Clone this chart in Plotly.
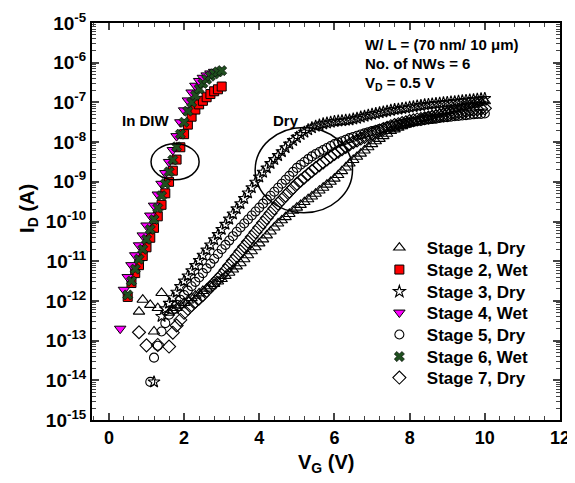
import plotly.graph_objects as go

# ---------------- data (log10 of I_D in A) ----------------
# Dry curves: shared gate-voltage grid for the main sweep
VG_DRY = [1.6, 1.7, 1.8, 1.9, 2.0, 2.1, 2.2, 2.3, 2.4, 2.5,
          2.6, 2.7, 2.8, 2.9, 3.0, 3.1, 3.2, 3.3, 3.4, 3.5,
          3.6, 3.7, 3.8, 3.9, 4.0, 4.1, 4.2, 4.3, 4.4, 4.5,
          4.6, 4.7, 4.8, 4.9, 5.0, 5.1, 5.2, 5.3, 5.4, 5.5,
          5.6, 5.7, 5.8, 5.9, 6.0, 6.1, 6.2, 6.3, 6.4, 6.5,
          6.6, 6.7, 6.8, 6.9, 7.0, 7.1, 7.2, 7.3, 7.4, 7.5,
          7.6, 7.7, 7.8, 7.9, 8.0, 8.1, 8.2, 8.3, 8.4, 8.5,
          8.6, 8.7, 8.8, 8.9, 9.0, 9.1, 9.2, 9.3, 9.4, 9.5,
          9.6, 9.7, 9.8, 9.9, 10.0]

# Stage 1 (dry, triangles)
S1_VG_START = [0.8, 0.9, 1.1, 1.2, 1.3, 1.4]
S1_LOG_START = [-12.27, -11.97, -12.10, -12.77, -12.18, -11.80]
S1_LOG = [-12.30, -12.24, -12.18, -12.11, -12.05, -11.99, -11.93, -11.87, -11.81, -11.75,
          -11.69, -11.63, -11.57, -11.51, -11.45, -11.37, -11.29, -11.21, -11.13, -11.05,
          -10.95, -10.85, -10.75, -10.65, -10.55, -10.45, -10.35, -10.25, -10.15, -10.05,
          -9.97, -9.89, -9.81, -9.73, -9.65, -9.58, -9.51, -9.44, -9.37, -9.30,
          -9.22, -9.15, -9.07, -9.00, -8.92, -8.83, -8.73, -8.64, -8.54, -8.45,
          -8.37, -8.29, -8.21, -8.13, -8.05, -7.98, -7.92, -7.85, -7.79, -7.72,
          -7.68, -7.64, -7.60, -7.56, -7.52, -7.49, -7.46, -7.42, -7.39, -7.36,
          -7.33, -7.30, -7.28, -7.25, -7.22, -7.20, -7.17, -7.15, -7.12, -7.10,
          -7.07, -7.05, -7.02, -7.00, -6.97]

# Stage 3 (dry, stars)
S3_VG_START = [1.2, 1.4, 1.5]
S3_LOG_START = [-14.04, -12.39, -12.20]
S3_LOG = [-12.06, -11.92, -11.78, -11.64, -11.50, -11.37, -11.24, -11.11, -10.98, -10.85,
          -10.72, -10.59, -10.46, -10.33, -10.20, -10.07, -9.94, -9.81, -9.68, -9.55,
          -9.42, -9.28, -9.15, -9.01, -8.88, -8.76, -8.65, -8.54, -8.44, -8.34,
          -8.24, -8.14, -8.05, -7.96, -7.88, -7.81, -7.75, -7.69, -7.64, -7.60,
          -7.57, -7.54, -7.52, -7.50, -7.48, -7.47, -7.46, -7.45, -7.44, -7.42,
          -7.40, -7.37, -7.35, -7.32, -7.30, -7.28, -7.26, -7.24, -7.22, -7.20,
          -7.18, -7.17, -7.15, -7.14, -7.12, -7.11, -7.09, -7.08, -7.06, -7.05,
          -7.04, -7.03, -7.02, -7.01, -7.00, -6.99, -6.98, -6.97, -6.96, -6.95,
          -6.94, -6.93, -6.92, -6.91, -6.90]

# Stage 5 (dry, circles)
S5_VG_START = [1.1, 1.2, 1.3, 1.4, 1.5]
S5_LOG_START = [-14.04, -13.43, -13.13, -12.77, -12.56]
S5_LOG = [-12.35, -12.22, -12.10, -11.97, -11.85, -11.74, -11.63, -11.52, -11.41, -11.30,
          -11.18, -11.06, -10.94, -10.82, -10.70, -10.59, -10.48, -10.37, -10.26, -10.15,
          -10.05, -9.95, -9.85, -9.75, -9.65, -9.55, -9.45, -9.35, -9.25, -9.15,
          -9.05, -8.95, -8.85, -8.75, -8.65, -8.57, -8.50, -8.43, -8.36, -8.30,
          -8.25, -8.20, -8.15, -8.10, -8.05, -8.01, -7.98, -7.94, -7.90, -7.87,
          -7.84, -7.81, -7.78, -7.75, -7.72, -7.70, -7.67, -7.65, -7.62, -7.60,
          -7.58, -7.56, -7.54, -7.52, -7.50, -7.49, -7.47, -7.46, -7.44, -7.43,
          -7.42, -7.41, -7.39, -7.38, -7.37, -7.36, -7.35, -7.34, -7.33, -7.32,
          -7.31, -7.30, -7.29, -7.29, -7.28]

# Stage 7 (dry, diamonds)
S7_VG_START = [0.8, 1.0, 1.3]
S7_LOG_START = [-12.79, -13.12, -13.11]
S7_LOG = [-13.15, -12.80, -12.62, -12.48, -12.30, -12.20, -12.11, -12.02, -11.94, -11.85,
          -11.75, -11.65, -11.55, -11.45, -11.35, -11.23, -11.11, -10.99, -10.87, -10.75,
          -10.63, -10.51, -10.39, -10.27, -10.15, -10.03, -9.91, -9.79, -9.67, -9.55,
          -9.45, -9.35, -9.25, -9.15, -9.05, -8.97, -8.89, -8.81, -8.73, -8.65,
          -8.58, -8.51, -8.44, -8.37, -8.30, -8.24, -8.18, -8.12, -8.06, -8.00,
          -7.96, -7.91, -7.87, -7.82, -7.78, -7.74, -7.71, -7.67, -7.64, -7.60,
          -7.57, -7.55, -7.52, -7.50, -7.47, -7.45, -7.43, -7.42, -7.40, -7.38,
          -7.36, -7.35, -7.33, -7.32, -7.30, -7.28, -7.27, -7.25, -7.24, -7.22,
          -7.20, -7.19, -7.18, -7.16, -7.15]

# Wet curves (in DIW)
S2_VG = [0.5, 0.6, 0.7, 0.8, 0.9, 1.0, 1.1, 1.2, 1.3, 1.4, 1.5, 1.6, 1.7,
         1.8, 1.9, 2.0, 2.1, 2.2, 2.3, 2.4, 2.5, 2.6, 2.7, 2.8, 2.9, 3.0]
S2_LOG = [-11.90, -11.55, -11.30, -11.10, -10.87, -10.65, -10.41, -10.16, -9.87, -9.58,
          -9.29, -9.00, -8.72, -8.44, -8.13, -7.80, -7.56, -7.36, -7.18, -7.05,
          -6.96, -6.87, -6.79, -6.72, -6.67, -6.60]

S4_VG = [0.3, 0.4, 0.5, 0.6, 0.7, 0.8, 0.9, 1.0, 1.1, 1.2, 1.3, 1.4, 1.5,
         1.6, 1.7, 1.8, 1.9, 2.0, 2.1, 2.2, 2.3, 2.4, 2.5, 2.6, 2.7, 2.8]
S4_LOG = [-12.70, -11.72, -11.40, -11.10, -10.85, -10.60, -10.35, -10.10, -9.85, -9.60,
          -9.32, -9.05, -8.78, -8.50, -8.20, -7.85, -7.50, -7.20, -6.95, -6.75,
          -6.58, -6.46, -6.38, -6.32, -6.27, -6.23]

S6_VG = [0.5, 0.6, 0.7, 0.8, 0.9, 1.0, 1.1, 1.2, 1.3, 1.4, 1.5, 1.6, 1.7,
         1.8, 1.9, 2.0, 2.1, 2.2, 2.3, 2.4, 2.5, 2.6, 2.7, 2.8, 2.9, 3.0]
S6_LOG = [-11.85, -11.50, -11.20, -10.95, -10.70, -10.45, -10.20, -9.95, -9.66, -9.35,
          -9.05, -8.75, -8.45, -8.12, -7.80, -7.50, -7.22, -7.00, -6.82, -6.66,
          -6.52, -6.42, -6.34, -6.28, -6.23, -6.20]

STAGE_NAMES = ["Stage 1, Dry", "Stage 2, Wet", "Stage 3, Dry", "Stage 4, Wet",
               "Stage 5, Dry", "Stage 6, Wet", "Stage 7, Dry"]

Y_TICK_EXP = [-15, -14, -13, -12, -11, -10, -9, -8, -7, -6, -5]
X_TICKS = [0, 2, 4, 6, 8, 10, 12]

# annotation ellipses (V range, log10 I range)
DIW_ELLIPSE = dict(v=(1.12, 2.4), log_i=(-8.95, -8.04))
DRY_ELLIPSE = dict(v=(3.89, 6.48), log_i=(-9.78, -7.63))


def amps(logs):
    return [10 ** v for v in logs]


series = [
    (S1_VG_START + VG_DRY, S1_LOG_START + S1_LOG,
     dict(symbol="triangle-up-open", size=10, color="black", line=dict(width=1.1))),
    (S2_VG, S2_LOG,
     dict(symbol="square", size=9, color="#ff0000", line=dict(color="black", width=1))),
    (S3_VG_START + VG_DRY, S3_LOG_START + S3_LOG,
     dict(symbol="star-open", size=9, color="black", line=dict(width=1.1))),
    (S4_VG, S4_LOG,
     dict(symbol="triangle-down", size=10, color="#ff00ff", line=dict(color="black", width=1))),
    (S5_VG_START + VG_DRY, S5_LOG_START + S5_LOG,
     dict(symbol="circle-open", size=9, color="black", line=dict(width=1.1))),
    (S6_VG, S6_LOG,
     dict(symbol="x", size=9, color="#1f4f1f", line=dict(color="black", width=0.6))),
    (S7_VG_START + VG_DRY, S7_LOG_START + S7_LOG,
     dict(symbol="diamond-open", size=10, color="black", line=dict(width=1.1))),
]

# page body has an 8px default margin: figure is placed at (8, 8)
OFF = 8
FIG_W, FIG_H = 575 - OFF, 483 - OFF
PLOT_L, PLOT_T, PLOT_W, PLOT_H = 92 - OFF, 23 - OFF, 468, 397
LEGEND_ROWS_PX = [248, 270, 292, 313, 335, 357, 378]

fig = go.Figure()
layout_legends = {}
for i, (name, (xs, ls, mk)) in enumerate(zip(STAGE_NAMES, series)):
    lname = "legend" if i == 0 else "legend%d" % (i + 1)
    fig.add_trace(go.Scatter(x=xs, y=amps(ls), mode="markers", name=name, marker=mk,
                             legend=lname))
    yc = (PLOT_T + OFF + PLOT_H - LEGEND_ROWS_PX[i]) / PLOT_H
    layout_legends[lname] = dict(x=0.598, y=yc, xanchor="left", yanchor="middle",
                                 bgcolor="rgba(0,0,0,0)", itemwidth=45,
                                 font=dict(size=17, weight="bold"))

FONT = "Liberation Sans, Arial, sans-serif"

minor_y = []
for e in Y_TICK_EXP[:-1]:
    for m in range(2, 10):
        minor_y.append(m * 10 ** e)

fig.update_layout(
    width=FIG_W, height=FIG_H,
    margin=dict(l=PLOT_L, r=FIG_W - PLOT_L - PLOT_W, t=PLOT_T, b=FIG_H - PLOT_T - PLOT_H,
                autoexpand=False),
    paper_bgcolor="white", plot_bgcolor="white",
    font=dict(family=FONT, size=17, color="black", weight="bold"),
    showlegend=True,
    xaxis=dict(range=[-0.45, 12], tickvals=X_TICKS, ticks="inside", ticklen=7,
               tickwidth=1.5, showline=True, linewidth=2, linecolor="black",
               mirror="allticks", showgrid=False, zeroline=False, automargin=False,
               tickfont=dict(size=18, weight="bold"),
               minor=dict(dtick=0.4, tick0=0, ticks="inside", ticklen=4, tickwidth=1.2,
                          showgrid=False)),
    yaxis=dict(type="log", range=[-15, -5],
               tickvals=[10 ** e for e in Y_TICK_EXP],
               ticktext=["10<sup>%d</sup>" % e for e in Y_TICK_EXP],
               ticks="inside", ticklen=7, tickwidth=1.5,
               showline=True, linewidth=2, linecolor="black", mirror="allticks",
               showgrid=False, zeroline=False, automargin=False,
               tickfont=dict(size=19, weight="bold"),
               minor=dict(tickvals=minor_y, ticks="inside", ticklen=4, tickwidth=1,
                          showgrid=False)),
    **layout_legends,
)

# axis titles
fig.add_annotation(text="V<sub>G</sub> (V)", xref="paper", yref="paper", x=0.5, y=-0.11,
                   xanchor="center", yanchor="middle", showarrow=False,
                   font=dict(size=20, weight="bold"))
fig.add_annotation(text="I<sub>D</sub> (A)", xref="paper", yref="paper", x=-0.137, y=0.534,
                   xanchor="center", yanchor="middle", showarrow=False, textangle=-90,
                   font=dict(size=20, weight="bold"))

# text labels
for txt, yy in [("W/ L = (70 nm/ 10 \u03bcm)", 0.945),
                ("No. of NWs = 6", 0.898),
                ("V<sub>D</sub> = 0.5 V", 0.848)]:
    fig.add_annotation(text=txt, xref="paper", yref="paper", x=0.58, y=yy,
                       xanchor="left", yanchor="middle", showarrow=False,
                       font=dict(size=15, weight="bold"))

fig.add_annotation(text="In DIW", x=0.98, y=-7.45, xref="x", yref="y", showarrow=False,
                   font=dict(size=15, weight="bold"))
fig.add_annotation(text="Dry", x=4.72, y=-7.45, xref="x", yref="y", showarrow=False,
                   font=dict(size=15, weight="bold"))

# ellipses (shapes on a log axis take data values)
for ell in (DIW_ELLIPSE, DRY_ELLIPSE):
    fig.add_shape(type="circle", xref="x", yref="y",
                  x0=ell["v"][0], x1=ell["v"][1],
                  y0=10 ** ell["log_i"][0], y1=10 ** ell["log_i"][1],
                  line=dict(color="black", width=1.5))

fig.write_html("out.html")
